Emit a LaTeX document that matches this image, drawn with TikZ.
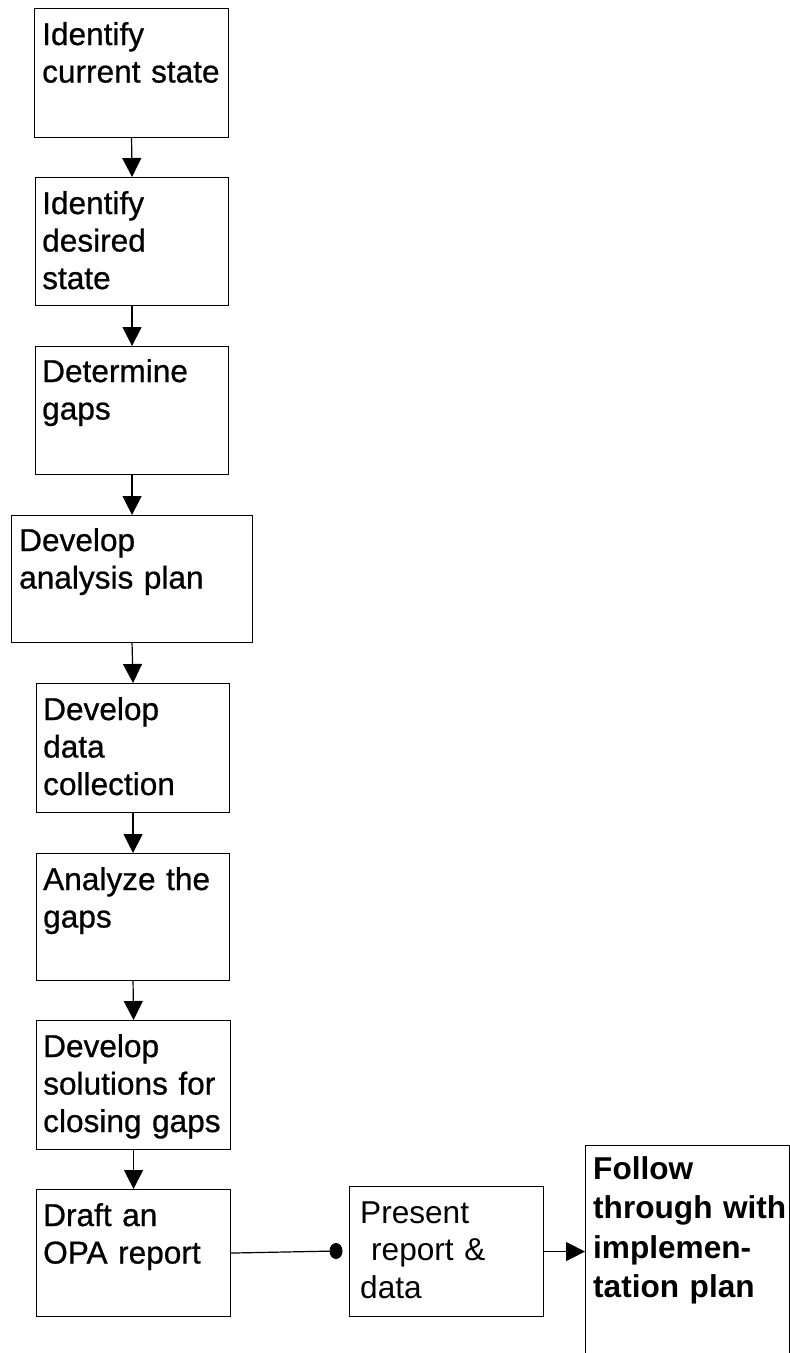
\documentclass[tikz,border=0pt]{standalone}
\usepackage{fontspec}
\setmainfont{Liberation Sans}
\newfontfamily\stepfont[FakeBold=0.7]{Liberation Sans}
\usetikzlibrary{arrows.meta,shapes.geometric}
\begin{document}
\begin{tikzpicture}[x=1pt,y=-1pt,
  stepbox/.style={draw, line width=1.1pt, rectangle, inner sep=0pt, anchor=north west},
  boxtext/.style={anchor=base west, inner sep=0pt, text width=260pt, align=left,
    font=\fontsize{31.6}{37.5}\selectfont\stepfont},
  plaintext/.style={boxtext, font=\fontsize{31.6}{37.5}\selectfont},
  boldtext/.style={boxtext, font=\fontsize{31.6}{39.5}\selectfont\bfseries},
  flow/.style={line width=1.2pt, -{Triangle[length=19pt,width=19pt]}},
  link/.style={line width=1.2pt}]
\useasboundingbox (0,0) rectangle (790,1353);
\fill[white] (0,0) rectangle (790,1353);

% main column of process steps
\node[stepbox, minimum width=194pt, minimum height=129pt] (b1) at (34,8) {};
\node[boxtext] (t1) at (42,45) {Identify\\current state};

\node[stepbox, minimum width=193pt, minimum height=128pt] (b2) at (35,177) {};
\node[boxtext] (t2) at (42,214) {Identify\\desired\\state};

\node[stepbox, minimum width=193pt, minimum height=128pt] (b3) at (35,346) {};
\node[boxtext] (t3) at (42,382) {Determine\\gaps};

\node[stepbox, minimum width=241pt, minimum height=127pt] (b4) at (11,515) {};
\node[boxtext] (t4) at (19,551) {Develop\\analysis plan};

\node[stepbox, minimum width=193pt, minimum height=129pt] (b5) at (36,683) {};
\node[boxtext] (t5) at (43,720) {Develop\\data\\collection};

\node[stepbox, minimum width=193pt, minimum height=127pt] (b6) at (36,853) {};
\node[boxtext] (t6) at (43,890) {Analyze the\\gaps};

\node[stepbox, minimum width=194pt, minimum height=129pt] (b7) at (36,1020) {};
\node[boxtext] (t7) at (43,1057) {Develop\\solutions for\\closing gaps};

\node[stepbox, minimum width=194pt, minimum height=127pt] (b8) at (36,1189) {};
\node[boxtext] (t8) at (43,1226) {Draft an\\OPA report};

% side branch
\node[stepbox, minimum width=194pt, minimum height=130pt] (b9) at (349,1186) {};
\node[plaintext] (t9) at (360,1223) {Present\\\hspace*{11pt}report \&\\data};

\node[stepbox, minimum width=204pt, minimum height=260pt] (b10) at (585,1145) {};
\node[boldtext] (t10) at (593,1179) {Follow\\through with\\implemen-\\tation plan};

\node[ellipse, fill=black, minimum width=13pt, minimum height=16pt, inner sep=0pt] (dot) at (336,1251) {};

% connectors
\draw[flow] (b1.south) -- (b2.north);
\draw[flow] (b2.south) -- (b3.north);
\draw[flow] (b3.south) -- (b4.north);
\draw[flow] (b4.south) -- (b5.north);
\draw[flow] (b5.south) -- (b6.north);
\draw[flow] (b6.south) -- (b7.north);
\draw[flow] (b7.south) -- (b8.north);
\draw[link] (b8.east) -- (dot.center);
\draw[flow] (b9.east) -- (b10.west |- b9.east);
\end{tikzpicture}
\end{document}
